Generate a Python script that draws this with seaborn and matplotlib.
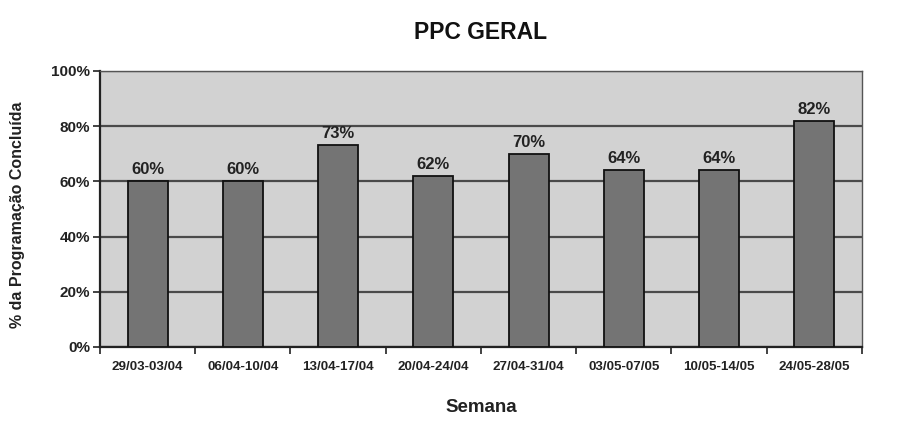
import matplotlib
matplotlib.use("Agg")
import matplotlib.pyplot as plt
import seaborn as sns
import pandas as pd
import numpy as np
from matplotlib.ticker import FixedLocator, PercentFormatter

semanas = ["29/03-03/04", "06/04-10/04", "13/04-17/04", "20/04-24/04",
           "27/04-31/04", "03/05-07/05", "10/05-14/05", "24/05-28/05"]
ppc = [60, 60, 73, 62, 70, 64, 64, 82]
y_ticks = [0, 20, 40, 60, 80, 100]

df = pd.DataFrame({"Semana": semanas, "PPC": ppc})

sns.set_style("white")
plt.rcParams["font.family"] = ["Liberation Sans", "DejaVu Sans"]
plt.rcParams["font.weight"] = "bold"

fig = plt.figure(figsize=(8.99, 4.28), dpi=100)
ax = fig.add_axes([0.1112, 0.1893, 0.8476, 0.6449])
ax.set_facecolor("#d2d2d2")

ax.set_ylim(0, 100)
ax.set_xlim(-0.5, len(semanas) - 0.5)
ax.yaxis.set_major_locator(FixedLocator(y_ticks))
ax.yaxis.set_major_formatter(PercentFormatter(decimals=0))
ax.grid(axis="y", color="#4a4a4a", linewidth=1.6, zorder=0)
ax.set_axisbelow(True)

sns.barplot(data=df, x="Semana", y="PPC", ax=ax, color="#747474",
            edgecolor="#111111", linewidth=1.3, width=0.42, saturation=1,
            zorder=3)

for i, v in enumerate(ppc):
    ax.text(i, v + 1.5, f"{v}%", ha="center", va="bottom",
            fontsize=12, fontweight="bold", color="#222222")

# Excel-style category ticks between the bars
ax.set_xticks(np.arange(-0.5, len(semanas)), minor=True)
ax.tick_params(axis="x", which="major", length=0, pad=10, labelsize=9.6,
               labelcolor="#222222")
ax.tick_params(axis="x", which="minor", length=5, width=1.2, color="#222222",
               direction="out", bottom=True)
ax.tick_params(axis="y", which="major", length=5, width=1.2, color="#222222",
               direction="out", left=True, labelsize=11, labelcolor="#222222",
               pad=2)
for lab in ax.get_xticklabels() + ax.get_yticklabels():
    lab.set_fontweight("bold")

for side in ["top", "right"]:
    ax.spines[side].set_color("#555555")
    ax.spines[side].set_linewidth(1.0)
for side in ["left", "bottom"]:
    ax.spines[side].set_color("#222222")
    ax.spines[side].set_linewidth(1.6)

ax.set_xlabel("Semana", fontsize=13.5, fontweight="bold", color="#222222")
ax.xaxis.set_label_coords(0.5, -0.19)
ax.set_ylabel("% da Programação Concluída", fontsize=11.5, fontweight="bold",
              color="#222222")
ax.yaxis.set_label_coords(-0.098, 0.478)
ax.text(0.5, 1.14, "PPC GERAL", transform=ax.transAxes, ha="center",
        va="center", fontsize=16.5, fontweight="bold", color="#111111")

fig.savefig("out.png", dpi=100, facecolor="white")
